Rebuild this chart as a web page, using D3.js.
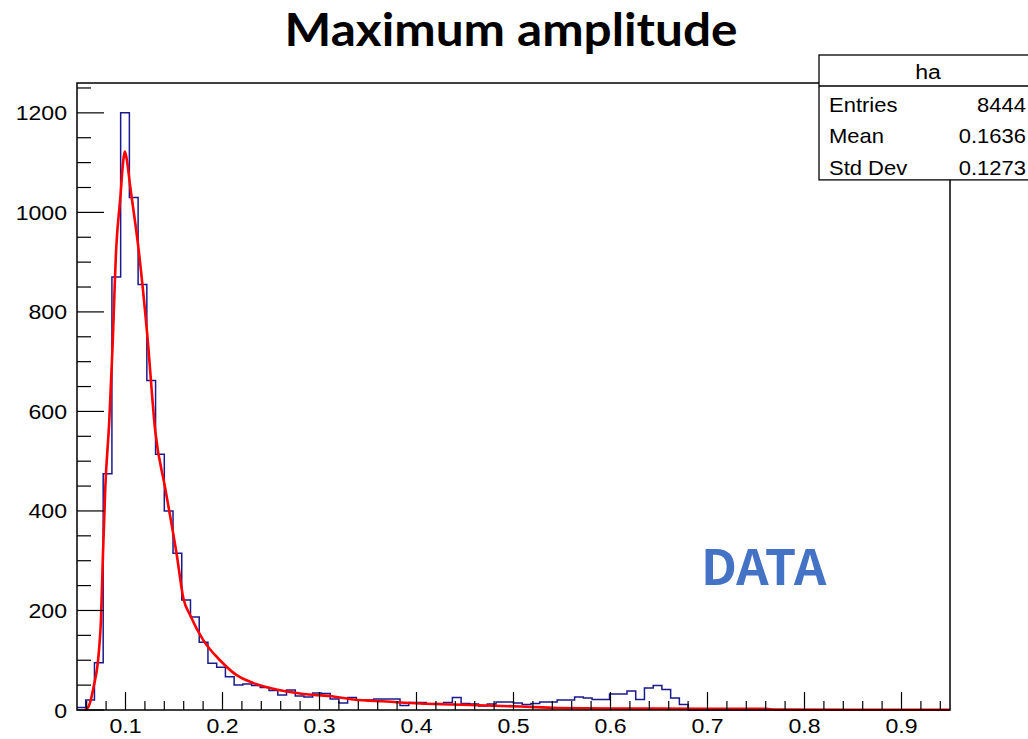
<!DOCTYPE html>
<html>
<head>
<meta charset="utf-8">
<script src="https://cdn.jsdelivr.net/npm/d3@7"></script>
<style>
  body { margin: 0; background: #fff; }
  svg { display: block; }
</style>
</head>
<body>
<div class="container"></div>
<script>
const title = 'Maximum amplitude';
const histName = 'ha';
const statLabels = ['Entries', 'Mean', 'Std Dev'];
const statValues = ['8444', '0.1636', '0.1273'];
const xTicks = [0.1, 0.2, 0.3, 0.4, 0.5, 0.6, 0.7, 0.8, 0.9];
const yTicks = [0, 200, 400, 600, 800, 1000, 1200];

// histogram: 100 bins of 0.009 starting at 0.05
const binStart = 0.05;
const binWidth = 0.009;
const counts = [
  5, 20, 95, 475, 870, 1200, 1030, 855, 662, 514,
  400, 315, 221, 187, 136, 94, 86, 67, 50, 52,
  49, 45, 39, 30, 40, 28, 26, 34, 33, 22,
  14, 25, 20, 20, 22, 22, 22, 9, 15, 15,
  12, 13, 15, 25, 13, 12, 8, 12, 16, 16,
  14, 11, 13, 16, 16, 20, 20, 26, 24, 21,
  21, 32, 32, 38, 21, 44, 49, 41, 24, 11,
  0, 0, 0, 0, 0, 0, 0, 0, 0, 0,
  0, 0, 0, 0, 0, 0, 0, 0, 0, 0,
  0, 0, 0, 0, 0, 0, 0, 0, 0, 0
];

// fitted curve
const fitX = [0.058, 0.062, 0.0672, 0.0724, 0.0747, 0.0768, 0.0792, 0.0833, 0.0865, 0.0905,
  0.0947, 0.0975, 0.0992, 0.101, 0.105, 0.1136, 0.1223, 0.1307, 0.141, 0.153,
  0.1596, 0.1668, 0.18, 0.1974, 0.2146, 0.2318, 0.249, 0.2662, 0.2833, 0.3108,
  0.335, 0.369, 0.4036, 0.438, 0.4724, 0.5067, 0.545, 0.6, 0.7, 0.76, 0.77, 0.95];
const fitY = [0, 7, 47, 114, 181, 315, 448, 582, 723, 930,
  1030, 1100, 1122, 1110, 1050, 924, 757, 560, 445, 310,
  225, 190, 141, 100, 70, 54, 44, 37, 32, 28,
  21, 17, 13, 11, 9, 7, 4, 3, 2.6, 2.5, 0.8, 0.5];

const width = 1028;
const height = 739;
const plot = { left: 77, right: 950, top: 83, bottom: 710 };
const axisFont = "'Liberation Sans', Arial, sans-serif";
const boldFont = "'Noto Sans CJK SC', 'Noto Sans', sans-serif";
const titleFont = "Lato, 'Noto Sans', sans-serif";
const stretch = 1.1; // the labels in the picture are a bit wide

const svg = d3.select('.container').append('svg').attr('width', width).attr('height', height);
svg.append('rect').attr('width', width).attr('height', height).attr('fill', '#fff');

const xScale = d3.scaleLinear().domain([0.05, 0.95]).range([plot.left, plot.right]);
const yScale = d3.scaleLinear().domain([0, 1260]).range([plot.bottom, plot.top]);

svg.append('clipPath').attr('id', 'plot-clip').append('rect')
  .attr('x', plot.left).attr('y', plot.top)
  .attr('width', plot.right - plot.left).attr('height', plot.bottom - plot.top + 1);

// wide label helper
const label = (sel, x, y) => sel.attr('transform', `translate(${x},${y}) scale(${stretch},1)`);

// histogram outline
const steps = counts.map((c, i) => [binStart + i * binWidth, c]);
steps.push([binStart + counts.length * binWidth, counts[counts.length - 1]]);

const histLine = d3.line()
  .x(d => xScale(d[0]))
  .y(d => yScale(d[1]))
  .curve(d3.curveStepAfter);

svg.append('path')
  .attr('d', histLine(steps))
  .attr('fill', 'none')
  .attr('stroke', '#1a1a8c')
  .attr('stroke-width', 1.5)
  .attr('clip-path', 'url(#plot-clip)');

// fit
const fitLine = d3.line()
  .x((d, i) => xScale(fitX[i]))
  .y(d => yScale(d))
  .curve(d3.curveMonotoneX);

svg.append('path')
  .attr('d', fitLine(fitY))
  .attr('fill', 'none')
  .attr('stroke', '#ff0000')
  .attr('stroke-width', 2.6)
  .attr('stroke-linejoin', 'round')
  .attr('clip-path', 'url(#plot-clip)');

// frame
svg.append('rect')
  .attr('x', plot.left).attr('y', plot.top)
  .attr('width', plot.right - plot.left).attr('height', plot.bottom - plot.top)
  .attr('fill', 'none').attr('stroke', '#000').attr('stroke-width', 1.5);

// y axis ticks
const yAxis = svg.append('g').attr('class', 'left-axis');
const yMinor = d3.range(0, 1251, 50);
yAxis.selectAll('line').data(yMinor).enter().append('line')
  .attr('x1', plot.left)
  .attr('x2', d => plot.left + (d % 200 === 0 ? 27 : 14))
  .attr('y1', d => yScale(d)).attr('y2', d => yScale(d))
  .attr('stroke', '#000').attr('stroke-width', 1.2);
yAxis.selectAll('text').data(yTicks).enter().append('text')
  .each(function (d) { label(d3.select(this), plot.left - 10, yScale(d) + 7.5); })
  .attr('text-anchor', 'end')
  .attr('font-family', axisFont)
  .attr('font-size', 21)
  .text(d => d);

// x axis ticks
const xAxis = svg.append('g').attr('class', 'bottom-axis');
const xMinor = d3.range(0, 46).map(i => 0.06 + i * 0.02).filter(v => v <= 0.95);
xAxis.selectAll('line').data(xMinor).enter().append('line')
  .attr('x1', d => xScale(d)).attr('x2', d => xScale(d))
  .attr('y1', plot.bottom)
  .attr('y2', d => plot.bottom - (Math.round(d * 100) % 10 === 0 ? 18 : 9))
  .attr('stroke', '#000').attr('stroke-width', 1.2);
xAxis.selectAll('text').data(xTicks).enter().append('text')
  .each(function (d) { label(d3.select(this), xScale(d), 733); })
  .attr('text-anchor', 'middle')
  .attr('font-family', axisFont)
  .attr('font-size', 21)
  .text(d => d);

// title
svg.append('text')
  .attr('transform', 'translate(511,46) scale(1.1,1)')
  .attr('text-anchor', 'middle')
  .attr('font-family', titleFont)
  .attr('font-weight', 'bold')
  .attr('font-size', 45)
  .text(title);

// DATA label
svg.append('text')
  .attr('transform', 'translate(701,585) scale(1.05,1)')
  .attr('font-family', boldFont)
  .attr('font-weight', 'bold')
  .attr('font-size', 48)
  .attr('fill', '#4472c4')
  .text('DATA');

// stats box
const box = { x: 819, y: 55, w: 212, head: 31, row: 31.3 };
const stats = svg.append('g').attr('class', 'stats');
stats.append('rect')
  .attr('x', box.x).attr('y', box.y)
  .attr('width', box.w).attr('height', box.head + box.row * statLabels.length)
  .attr('fill', '#fff').attr('stroke', '#000').attr('stroke-width', 1.3);
stats.append('line')
  .attr('x1', box.x).attr('x2', box.x + box.w)
  .attr('y1', box.y + box.head).attr('y2', box.y + box.head)
  .attr('stroke', '#000').attr('stroke-width', 1.3);
stats.append('text')
  .call(label, 928, box.y + 24)
  .attr('text-anchor', 'middle')
  .attr('font-family', axisFont).attr('font-size', 21)
  .text(histName);
stats.selectAll('text.label').data(statLabels).enter().append('text')
  .attr('class', 'label')
  .each(function (d, i) { label(d3.select(this), box.x + 10, box.y + box.head + 26 + i * box.row); })
  .attr('font-family', axisFont).attr('font-size', 20)
  .text(d => d);
stats.selectAll('text.value').data(statValues).enter().append('text')
  .attr('class', 'value')
  .each(function (d, i) { label(d3.select(this), 1026, box.y + box.head + 26 + i * box.row); })
  .attr('text-anchor', 'end')
  .attr('font-family', axisFont).attr('font-size', 20)
  .text(d => d);
</script>
</body>
</html>
